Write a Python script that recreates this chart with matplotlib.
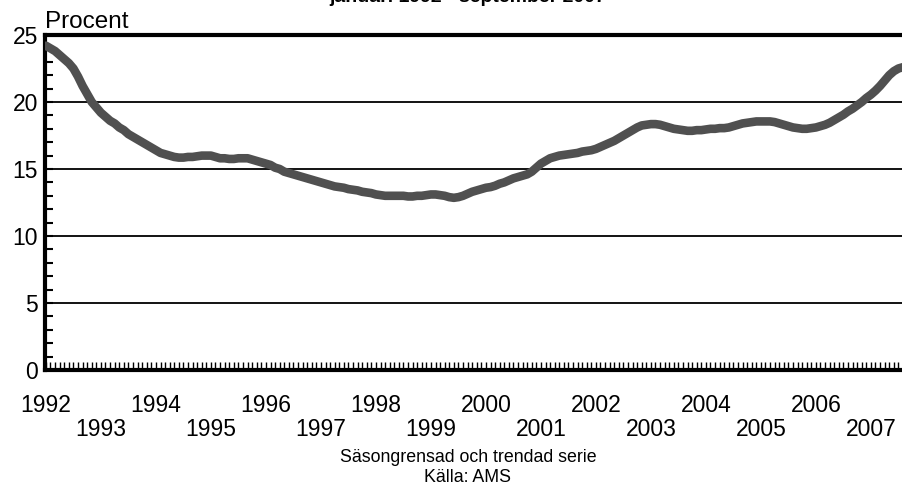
import numpy as np
import matplotlib
matplotlib.use("Agg")
import matplotlib.pyplot as plt
from matplotlib.ticker import FixedLocator, MultipleLocator

plt.rcParams['font.family'] = ['Liberation Sans', 'DejaVu Sans']

# månadsvärden, januari 1992 - september 2007 (procent)
v1992 = [24.2, 24.0, 23.8, 23.5, 23.2, 22.9, 22.5, 21.9, 21.2, 20.6, 20.0, 19.6]
v1993 = [19.2, 18.9, 18.6, 18.4, 18.1, 17.9, 17.6, 17.4, 17.2, 17.0, 16.8, 16.6]
v1994 = [16.4, 16.2, 16.1, 16.0, 15.9, 15.85, 15.85, 15.9, 15.9, 15.95, 16.0, 16.0]
v1995 = [16.0, 15.9, 15.8, 15.8, 15.75, 15.75, 15.8, 15.8, 15.8, 15.7, 15.6, 15.5]
v1996 = [15.4, 15.3, 15.1, 15.0, 14.8, 14.7, 14.6, 14.5, 14.4, 14.3, 14.2, 14.1]
v1997 = [14.0, 13.9, 13.8, 13.7, 13.65, 13.6, 13.5, 13.45, 13.4, 13.3, 13.25, 13.2]
v1998 = [13.1, 13.05, 13.0, 13.0, 13.0, 13.0, 13.0, 12.95, 12.95, 13.0, 13.0, 13.05]
v1999 = [13.1, 13.1, 13.05, 13.0, 12.9, 12.85, 12.9, 13.0, 13.15, 13.3, 13.4, 13.5]
v2000 = [13.6, 13.65, 13.75, 13.9, 14.0, 14.15, 14.3, 14.4, 14.5, 14.6, 14.8, 15.1]
v2001 = [15.4, 15.6, 15.8, 15.9, 16.0, 16.05, 16.1, 16.15, 16.2, 16.3, 16.35, 16.4]
v2002 = [16.5, 16.65, 16.8, 16.95, 17.1, 17.3, 17.5, 17.7, 17.9, 18.1, 18.25, 18.3]
v2003 = [18.35, 18.35, 18.3, 18.2, 18.1, 18.0, 17.95, 17.9, 17.85, 17.85, 17.9, 17.9]
v2004 = [17.95, 18.0, 18.0, 18.05, 18.05, 18.1, 18.2, 18.3, 18.4, 18.45, 18.5, 18.55]
v2005 = [18.55, 18.55, 18.55, 18.5, 18.4, 18.3, 18.2, 18.1, 18.05, 18.0, 18.0, 18.05]
v2006 = [18.1, 18.2, 18.3, 18.45, 18.65, 18.85, 19.05, 19.3, 19.5, 19.75, 20.0, 20.3]
v2007 = [20.55, 20.85, 21.2, 21.6, 22.0, 22.3, 22.5, 22.6, 22.65]

years = list(range(1992, 2008))
values = (v1992 + v1993 + v1994 + v1995 + v1996 + v1997 + v1998 + v1999 +
          v2000 + v2001 + v2002 + v2003 + v2004 + v2005 + v2006 + v2007)
months = np.arange(len(values))

fig = plt.figure(figsize=(9.03, 4.88), dpi=100)
ax = fig.add_axes([45 / 903, 1 - 370 / 488, 1 - 45 / 903, (370 - 35) / 488])

for y in [5, 10, 15, 20]:
    ax.axhline(y, color='black', lw=1.3, zorder=1)

ax.plot(months, values, color='#505050', lw=6.2, solid_capstyle='round', zorder=3)

ax.set_xlim(-0.2, 187.0)
ax.set_ylim(0, 25)

for s in ['left', 'top', 'bottom']:
    ax.spines[s].set_linewidth(3)
ax.spines['right'].set_visible(False)

# årsetiketter i två rader
year_pos = [(y - 1992) * 12 for y in years]
year_lab = [str(y) if y % 2 == 0 else '\n' + str(y) for y in years]
ax.xaxis.set_major_locator(FixedLocator(year_pos))
ax.set_xticklabels(year_lab, fontsize=16.5, linespacing=1.05)
ax.xaxis.set_minor_locator(FixedLocator(months))
ax.tick_params(axis='x', which='both', direction='in', length=6, width=1, pad=17)

ax.yaxis.set_major_locator(MultipleLocator(5))
ax.yaxis.set_minor_locator(MultipleLocator(1))
ax.tick_params(axis='y', which='major', direction='in', length=6, width=1.5,
               labelsize=16.5, pad=5)
ax.tick_params(axis='y', which='minor', direction='in', length=6, width=1.5)

fig.text(45 / 903, 1 - 28 / 488, 'Procent', fontsize=17.5, va='baseline', ha='left')
fig.text(468 / 903, 1 - 2 / 488, 'januari 1992 - september 2007', fontsize=14,
         fontweight='bold', ha='center', va='baseline')
fig.text(468 / 903, 1 - 458 / 488, 'Säsongrensad och trendad serie', fontsize=12.8,
         ha='center', va='center')
fig.text(468 / 903, 1 - 478 / 488, 'Källa: AMS', fontsize=12.8, ha='center', va='center')

fig.savefig('out.png', dpi=100)
